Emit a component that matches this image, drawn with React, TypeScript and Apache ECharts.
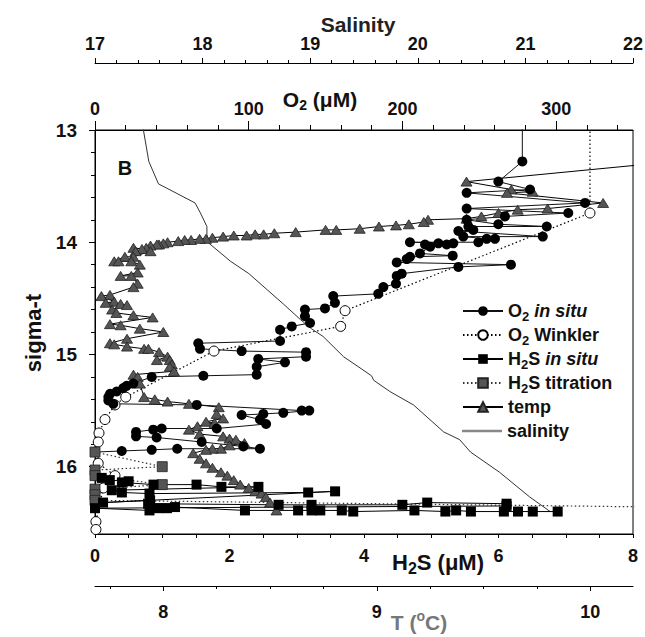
import React, { useEffect, useRef } from 'react';
import * as echarts from 'echarts';

const FONT = '"Liberation Sans", Arial, Helvetica, sans-serif';

// ---- tick values ----
const H2S_RANGE = [0, 8];
const O2_RANGE = [0, 350];
const SAL_RANGE = [17, 22];
const T_RANGE = [7.68, 10.2];
const SIGMA_RANGE = [13, 16.6];
const O2_MAJOR = [0, 100, 200, 300];
const O2_MINOR = [20, 40, 60, 80, 120, 140, 160, 180, 220, 240, 260, 280, 320, 340];
const T_MAJOR = [8, 9, 10];
const T_MINOR = [7.75, 8.25, 8.5, 8.75, 9.25, 9.5, 9.75];
const SIGMA_MAJOR = [13, 14, 15, 16];
const SIGMA_MINOR = [13.2, 13.4, 13.6, 13.8, 14.2, 14.4, 14.6, 14.8, 15.2, 15.4, 15.6, 15.8, 16.2, 16.4];

// ---- series: [x value, sigma-t] ----
const salinityData = [
  [17.43, 12.9], [17.45, 13.0], [17.5, 13.28], [17.59, 13.48], [17.93, 13.65], [17.98, 13.74],
  [18.04, 13.86], [18.04, 13.93], [18.06, 14.01], [18.26, 14.17], [18.43, 14.28], [18.75, 14.55],
  [18.91, 14.69], [19.01, 14.77], [19.12, 14.84], [19.31, 15.02], [19.57, 15.19], [19.59, 15.23],
  [19.74, 15.33], [19.96, 15.45], [20.24, 15.69], [20.39, 15.76], [20.49, 15.87], [20.76, 16.05],
  [21.04, 16.27], [21.23, 16.4],
];

const tempData = [
  [10.51, 13.26], [9.42, 13.46], [9.63, 13.53], [9.73, 13.55], [9.61, 13.56], [10.06, 13.65],
  [9.8, 13.7], [9.66, 13.71], [9.57, 13.74], [9.49, 13.77], [9.42, 13.79], [9.24, 13.8],
  [9.22, 13.82], [9.15, 13.84], [9.09, 13.85], [9.01, 13.86], [8.92, 13.88], [8.81, 13.89],
  [8.76, 13.89], [8.62, 13.91], [8.52, 13.92], [8.47, 13.93], [8.43, 13.93], [8.39, 13.94],
  [8.33, 13.94], [8.28, 13.95], [8.23, 13.96], [8.2, 13.97], [8.17, 13.97], [8.13, 13.98],
  [8.1, 13.98], [8.07, 13.99], [8.02, 14.0], [8.0, 14.01], [7.98, 14.02], [7.97, 14.02],
  [7.94, 14.03], [7.92, 14.05], [7.9, 14.06], [7.86, 14.05], [7.87, 14.08], [7.94, 14.08],
  [7.86, 14.13], [7.82, 14.13], [7.77, 14.17], [7.79, 14.17], [7.85, 14.17], [7.89, 14.2],
  [7.88, 14.27], [7.8, 14.3], [7.85, 14.3], [7.88, 14.37], [7.86, 14.4], [7.75, 14.47],
  [7.71, 14.48], [7.77, 14.53], [7.73, 14.54], [7.8, 14.55], [7.83, 14.56], [7.76, 14.6],
  [7.78, 14.63], [7.86, 14.65], [7.95, 14.67], [7.75, 14.73], [7.8, 14.74], [7.89, 14.77],
  [8.0, 14.8], [7.83, 14.86], [7.75, 14.9], [7.77, 14.91], [7.83, 14.93], [7.91, 14.95],
  [7.93, 14.95], [7.98, 14.98], [8.02, 15.02], [7.97, 15.05], [8.03, 15.05], [8.04, 15.09],
  [8.03, 15.11], [8.05, 15.15], [7.86, 15.18], [7.88, 15.2], [7.89, 15.26], [7.91, 15.38],
  [7.96, 15.4], [8.02, 15.42], [8.12, 15.44], [8.26, 15.47], [8.25, 15.53], [8.28, 15.57],
  [8.2, 15.6], [8.24, 15.61], [8.16, 15.64], [8.12, 15.67], [8.17, 15.71], [8.28, 15.73],
  [8.31, 15.75], [8.34, 15.76], [8.38, 15.79], [8.31, 15.81], [8.27, 15.84], [8.23, 15.84],
  [8.2, 15.85], [8.14, 15.88], [8.17, 15.93], [8.2, 15.97], [8.23, 16.01], [8.27, 16.05],
  [8.3, 16.08], [8.33, 16.12], [8.36, 16.16], [8.4, 16.19], [8.43, 16.22], [8.46, 16.24],
  [8.48, 16.27], [8.5, 16.32], [8.53, 16.39],
];

const o2InSituData = [
  [278.0, 12.9], [278.0, 13.28], [262.4, 13.46], [283.0, 13.53], [241.8, 13.56], [318.8, 13.65],
  [241.8, 13.7], [307.9, 13.74], [266.7, 13.77], [241.8, 13.8], [262.4, 13.84], [293.9, 13.86],
  [242.9, 13.86], [246.1, 13.89], [236.4, 13.9], [291.3, 13.95], [239.6, 13.95], [254.8, 13.97],
  [260.2, 13.97], [249.4, 14.0], [204.9, 14.0], [233.1, 14.01], [223.4, 14.01], [228.8, 14.02],
  [214.7, 14.02], [218.0, 14.04], [211.4, 14.1], [232.7, 14.12], [204.9, 14.13], [202.8, 14.15],
  [196.3, 14.18], [270.6, 14.2], [236.4, 14.22], [199.5, 14.28], [196.3, 14.3], [195.8, 14.37],
  [187.6, 14.4], [184.3, 14.46], [155.0, 14.48], [156.1, 14.54], [149.6, 14.59], [136.6, 14.6],
  [136.6, 14.66], [139.9, 14.72], [128.0, 14.75], [120.4, 14.78], [120.4, 14.88], [67.2, 14.9],
  [68.3, 14.95], [95.4, 14.97], [137.3, 14.98], [137.3, 15.02], [106.2, 15.04], [123.6, 15.07],
  [105.2, 15.11], [105.2, 15.18], [70.5, 15.19], [36.9, 15.2], [24.9, 15.26], [20.6, 15.28],
  [18.4, 15.3], [14.1, 15.33], [9.8, 15.35], [8.7, 15.38], [8.7, 15.41], [11.9, 15.44],
  [66.2, 15.45], [134.5, 15.5], [139.4, 15.5], [122.5, 15.52], [109.5, 15.53], [95.4, 15.54],
  [107.3, 15.58], [111.3, 15.62], [79.2, 15.66], [43.4, 15.66], [37.9, 15.67], [26.7, 15.69],
  [26.7, 15.73], [40.1, 15.74], [69.4, 15.78], [96.5, 15.82], [107.3, 15.84], [53.5, 15.84],
  [36.9, 15.85], [17.4, 15.86], [0.0, 15.87],
];

const o2WinklerData = [
  [322.0, 12.8], [322.0, 13.74], [162.7, 14.61], [159.8, 14.75], [77.4, 14.97], [20.0, 15.38],
  [13.0, 15.45], [6.5, 15.58], [2.6, 15.7], [2.1, 15.78], [2.1, 15.97], [13.0, 16.08],
  [5.4, 16.19], [0.6, 16.49], [0.6, 16.56],
];

const h2sInSituData = [
  [0.1, 16.1], [0.22, 16.12], [0.5, 16.13], [0.4, 16.14], [0.87, 16.16], [1.51, 16.16],
  [1.88, 16.18], [2.43, 16.18], [0.25, 16.21], [0.4, 16.23], [0.81, 16.24], [3.17, 16.23],
  [3.57, 16.22], [0.12, 16.32], [0.82, 16.3], [0.79, 16.33], [2.73, 16.34], [3.22, 16.34],
  [4.57, 16.34], [4.94, 16.32], [6.12, 16.33], [6.12, 16.35], [0.0, 16.37], [0.81, 16.39],
  [0.94, 16.37], [1.07, 16.37], [1.19, 16.36], [2.23, 16.39], [3.02, 16.39], [3.22, 16.39],
  [3.35, 16.39], [3.67, 16.39], [3.84, 16.4], [4.75, 16.39], [5.21, 16.4], [5.37, 16.39],
  [5.59, 16.4], [6.08, 16.4], [6.29, 16.4], [6.51, 16.4], [6.88, 16.4],
];

const h2sTitrationData = [
  [0.0, 15.87], [1.0, 16.0], [0.0, 16.03], [0.0, 16.08], [1.0, 16.16], [0.0, 16.2],
  [0.0, 16.25], [0.0, 16.3], [14.0, 16.4],
];

const SERIES_NAMES = ['O2 in situ', 'O2 Winkler', 'H2S in situ', 'H2S titration', 'temp', 'salinity'];
const LEGEND_LABELS: Record<string, string> = {
  'O2 in situ': '{n|O}{s|2}{n| }{i|in situ}',
  'O2 Winkler': '{n|O}{s|2}{n| Winkler}',
  'H2S in situ': '{n|H}{s|2}{n|S }{i|in situ}',
  'H2S titration': '{n|H}{s|2}{n|S titration}',
  temp: '{n|temp}',
  salinity: '{n|salinity}',
};

const labelStyle = { color: '#111', fontSize: 18, fontWeight: 'bold', fontFamily: FONT };
const blackLine = { show: true, lineStyle: { color: '#000', width: 1 } };

const legendText = {
  fontFamily: FONT,
  rich: {
    n: { fontSize: 18, fontWeight: 'bold', color: '#111', fontFamily: FONT, lineHeight: 24, height: 24 },
    i: { fontSize: 18, fontWeight: 'bold', fontStyle: 'italic', color: '#111', fontFamily: FONT, lineHeight: 24, height: 24 },
    s: { fontSize: 13, fontWeight: 'bold', color: '#111', fontFamily: FONT, verticalAlign: 'bottom' },
  },
};

function buildLegends() {
  return SERIES_NAMES.map((name, i) => {
    const isSal = name === 'salinity';
    return {
      orient: 'vertical', left: 462, top: 299 + 24 * i, padding: 0, itemGap: 0,
      itemWidth: 40, itemHeight: isSal ? 2.5 : 12, selectedMode: false,
      data: [isSal ? { name, icon: 'rect', itemStyle: { color: '#888', borderWidth: 0 } } : { name }],
      formatter: (n: string) => LEGEND_LABELS[n] || n,
      textStyle: legendText,
    };
  });
}

function buildOption() {
  return {
    animation: false,
    backgroundColor: '#fff',
    grid: {
      left: 95, right: 12, top: 130, bottom: 103,
      show: true, borderColor: '#000', borderWidth: 1, backgroundColor: 'transparent',
      outerBoundsMode: 'none',
    },
    xAxis: [
      {
        type: 'value', min: H2S_RANGE[0], max: H2S_RANGE[1], interval: 2, position: 'bottom',
        axisLine: blackLine, splitLine: { show: false },
        axisTick: { show: true, length: 4, lineStyle: { color: '#000' } },
        minorTick: { show: true, splitNumber: 4, length: 4, lineStyle: { color: '#000' } },
        axisLabel: { ...labelStyle, margin: 13 },
      },
      {
        type: 'value', min: O2_RANGE[0], max: O2_RANGE[1], position: 'top',
        axisLine: blackLine, splitLine: { show: false },
        axisTick: { show: true, length: 9, customValues: O2_MAJOR, lineStyle: { color: '#000' } },
        axisLabel: { ...labelStyle, margin: 12, customValues: O2_MAJOR },
      },
      {
        type: 'value', min: O2_RANGE[0], max: O2_RANGE[1], position: 'top',
        axisLine: { show: false }, splitLine: { show: false }, axisLabel: { show: false },
        axisTick: { show: true, length: 5, customValues: O2_MINOR, lineStyle: { color: '#000' } },
      },
      {
        type: 'value', min: SAL_RANGE[0], max: SAL_RANGE[1], interval: 1, position: 'top', offset: 67,
        axisLine: blackLine, splitLine: { show: false },
        axisTick: { show: true, length: 5, lineStyle: { color: '#000' } },
        minorTick: { show: true, splitNumber: 5, length: 3, lineStyle: { color: '#000' } },
        axisLabel: { ...labelStyle, margin: 10 },
      },
      {
        type: 'value', min: T_RANGE[0], max: T_RANGE[1], position: 'bottom', offset: 52,
        axisLine: blackLine, splitLine: { show: false },
        axisTick: { show: true, length: 5, customValues: T_MAJOR, lineStyle: { color: '#000' } },
        axisLabel: { ...labelStyle, margin: 17, customValues: T_MAJOR },
      },
      {
        type: 'value', min: T_RANGE[0], max: T_RANGE[1], position: 'bottom', offset: 52,
        axisLine: { show: false }, splitLine: { show: false }, axisLabel: { show: false },
        axisTick: { show: true, length: 3, customValues: T_MINOR, lineStyle: { color: '#000' } },
      },
    ],
    yAxis: [
      {
        type: 'value', inverse: true, min: SIGMA_RANGE[0], max: SIGMA_RANGE[1], position: 'left',
        axisLine: blackLine, splitLine: { show: false },
        axisTick: { show: true, length: 6, customValues: SIGMA_MAJOR, lineStyle: { color: '#000' } },
        axisLabel: { ...labelStyle, fontSize: 19, margin: 18, customValues: SIGMA_MAJOR },
      },
      {
        type: 'value', inverse: true, min: SIGMA_RANGE[0], max: SIGMA_RANGE[1], position: 'left',
        axisLine: { show: false }, splitLine: { show: false }, axisLabel: { show: false },
        axisTick: { show: true, length: 4, customValues: SIGMA_MINOR, lineStyle: { color: '#000' } },
      },
    ],
    legend: buildLegends(),
    graphic: [
      {
        type: 'text', x: 125, y: 168,
        style: { text: 'B', fontSize: 20, fontWeight: 'bold', fontFamily: FONT, fill: '#111', align: 'center', verticalAlign: 'middle' },
      },
      {
        type: 'text', x: 358, y: 24,
        style: { text: 'Salinity', fontSize: 21, fontWeight: 'bold', fontFamily: FONT, fill: '#222', align: 'center', verticalAlign: 'middle' },
      },
      {
        type: 'text', x: 320, y: 99,
        style: {
          text: '{b|O}{s|2}{b| (μM)}', align: 'center', verticalAlign: 'middle',
          rich: {
            b: { fontSize: 21, fontWeight: 'bold', fontFamily: FONT, fill: '#111', lineHeight: 26 },
            s: { fontSize: 14, fontWeight: 'bold', fontFamily: FONT, fill: '#111', verticalAlign: 'bottom' },
          },
        },
      },
      {
        type: 'text', x: 438, y: 562,
        style: {
          text: '{b|H}{s|2}{b|S (μM)}', align: 'center', verticalAlign: 'middle',
          rich: {
            b: { fontSize: 22, fontWeight: 'bold', fontFamily: FONT, fill: '#111', lineHeight: 28 },
            s: { fontSize: 16, fontWeight: 'bold', fontFamily: FONT, fill: '#111', verticalAlign: 'bottom' },
          },
        },
      },
      {
        type: 'text', x: 419, y: 622,
        style: {
          text: '{b|T (}{p|o}{b|C)}', align: 'center', verticalAlign: 'middle',
          rich: {
            b: { fontSize: 21, fontWeight: 'bold', fontFamily: FONT, fill: '#777', lineHeight: 26 },
            p: { fontSize: 14, fontWeight: 'bold', fontFamily: FONT, fill: '#777', verticalAlign: 'top' },
          },
        },
      },
      {
        type: 'text', x: 33, y: 333, rotation: Math.PI / 2,
        style: { text: 'sigma-t', fontSize: 22, fontWeight: 'bold', fontFamily: FONT, fill: '#111', align: 'center', verticalAlign: 'middle' },
      },
    ],
    series: [
      {
        name: 'temp', type: 'line', xAxisIndex: 4, yAxisIndex: 0, data: tempData,
        symbol: 'triangle', symbolSize: [11, 9], showSymbol: true,
        itemStyle: { color: '#555', borderColor: '#222', borderWidth: 0.8 },
        lineStyle: { color: '#000', width: 1 },
      },
      {
        name: 'salinity', type: 'line', xAxisIndex: 3, yAxisIndex: 0, data: salinityData,
        symbol: 'none', lineStyle: { color: '#333', width: 1 }, itemStyle: { color: '#888' },
      },
      {
        name: 'O2 Winkler', type: 'line', xAxisIndex: 1, yAxisIndex: 0, data: o2WinklerData,
        symbol: 'circle', symbolSize: 10,
        itemStyle: { color: '#fff', borderColor: '#000', borderWidth: 1 },
        lineStyle: { color: '#000', width: 1.2, type: [1.5, 2.5] },
      },
      {
        name: 'O2 in situ', type: 'line', xAxisIndex: 1, yAxisIndex: 0, data: o2InSituData,
        symbol: 'circle', symbolSize: 10,
        itemStyle: { color: '#000' },
        lineStyle: { color: '#111', width: 1 },
      },
      {
        name: 'H2S titration', type: 'line', xAxisIndex: 0, yAxisIndex: 0, data: h2sTitrationData,
        symbol: 'rect', symbolSize: 10,
        itemStyle: { color: '#555', borderColor: '#222', borderWidth: 0.8 },
        lineStyle: { color: '#333', width: 1.2, type: [1.5, 2.5] },
      },
      {
        name: 'H2S in situ', type: 'line', xAxisIndex: 0, yAxisIndex: 0, data: h2sInSituData,
        symbol: 'rect', symbolSize: 10,
        itemStyle: { color: '#000' },
        lineStyle: { color: '#000', width: 1 },
      },
    ],
  };
}

export default function App() {
  const ref = useRef<HTMLDivElement>(null);
  useEffect(() => {
    if (!ref.current) return;
    const chart = echarts.init(ref.current, null, { renderer: 'svg' });
    chart.setOption(buildOption() as any);
    return () => chart.dispose();
  }, []);
  return (
    <div
      ref={ref}
      style={{ position: 'absolute', left: 0, top: 0, width: 645, height: 637, background: '#fff' }}
    />
  );
}
